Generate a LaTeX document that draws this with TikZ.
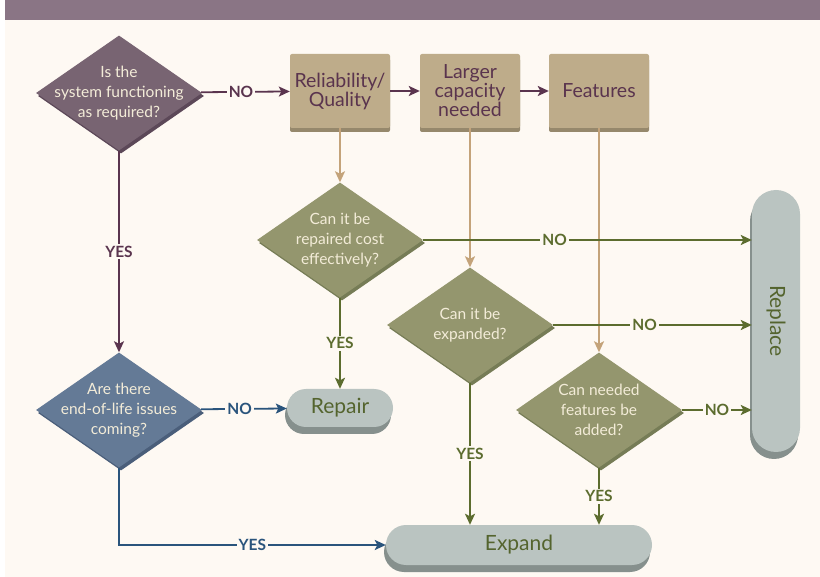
\documentclass[tikz,border=0pt]{standalone}
\usepackage{fontspec}
\setmainfont{Lato}
\usetikzlibrary{positioning,arrows.meta,calc,shapes.geometric,shadows}
\definecolor{PlumBand}{RGB}{138,117,133}
\definecolor{PaperCream}{RGB}{254,249,243}
\definecolor{PlumFill}{RGB}{120,100,114}
\definecolor{PlumShade}{RGB}{92,72,88}
\definecolor{PlumLine}{RGB}{90,52,78}
\definecolor{TanFill}{RGB}{190,172,138}
\definecolor{TanShade}{RGB}{150,136,108}
\definecolor{TanLine}{RGB}{196,163,122}
\definecolor{OliveFill}{RGB}{148,150,110}
\definecolor{OliveShade}{RGB}{118,124,86}
\definecolor{OliveLine}{RGB}{92,108,46}
\definecolor{SlateFill}{RGB}{100,122,150}
\definecolor{SlateShade}{RGB}{74,94,122}
\definecolor{SlateLine}{RGB}{42,84,124}
\definecolor{StoneFill}{RGB}{186,196,193}
\definecolor{StoneShade}{RGB}{134,144,141}
\definecolor{CreamText}{RGB}{243,236,216}
\definecolor{OliveText}{RGB}{84,100,46}

\begin{document}
\begin{tikzpicture}[x=1pt, y=-1pt, every node/.style={align=center}]
\tikzset{
  decide/.style={diamond, inner sep=0pt, minimum width=166pt, minimum height=115pt,
    fill=#1Fill, drop shadow={shadow xshift=2pt, shadow yshift=-3pt, fill=#1Shade, opacity=1}},
  qtext/.style={text=CreamText, font=\fontsize{15.5}{20}\selectfont},
  stage/.style={rectangle, rounded corners=2pt, fill=TanFill, minimum width=100pt, minimum height=74pt,
    text=PlumLine, font=\fontsize{19.5}{19}\selectfont,
    drop shadow={shadow xshift=0pt, shadow yshift=-4pt, fill=TanShade, opacity=1}},
  finish/.style={rectangle, fill=StoneFill, text=OliveText, font=\fontsize{21}{24}\selectfont,
    drop shadow={shadow xshift=-2pt, shadow yshift=-7pt, fill=StoneShade, opacity=1}},
  link/.style={-{Stealth[length=11pt, width=10pt, inset=2.5pt]}, line width=1.8pt, #1},
  lbl/.style={fill=PaperCream, inner sep=2pt, font=\fontsize{15.5}{15}\selectfont\bfseries}
}
  \useasboundingbox (0,0) rectangle (820,577);
  \fill[white] (0,0) rectangle (820,577);
  \fill[PaperCream] (5,20) rectangle (820,577);
  \fill[PlumBand] (5,0) rectangle (820,20);

  \node[decide=Plum, label={[qtext]center:Is the\\system functioning\\as required?}] (q1) at (119,93) {};
  \node[stage] (rel) at (340,91) {Reliability/\\Quality};
  \node[stage] (cap) at (470,91) {Larger\\capacity\\needed};
  \node[stage] (feat) at (599,91) {Features};
  \node[decide=Olive, label={[qtext]center:Can it be\\repaired cost\\effectively?}] (q2) at (340,240) {};
  \node[decide=Olive, label={[qtext]center:Can it be\\expanded?}] (q3) at (470,325) {};
  \node[decide=Olive, label={[qtext]center:Can needed\\features be\\added?}] (q4) at (599,410) {};
  \node[decide=Slate, label={[qtext]center:Are there\\end-of-life issues\\coming?}] (q5) at (119,410) {};
  \node[finish, rounded corners=19pt, minimum width=106pt, minimum height=38pt] (fix) at (340,408) {Repair};
  \node[finish, rounded corners=20pt, minimum width=266pt, minimum height=40pt] (grow) at (519,545) {Expand};
  \node[finish, rounded corners=24pt, minimum width=48pt, minimum height=262pt,
    label={[text=OliveText, font=\fontsize{21}{24}\selectfont, rotate=-90]center:Replace}] (swap) at (776,321) {};

  \draw[link=PlumLine] (q1) -- node[lbl, pos=0.45]{NO} (rel);
  \draw[link=PlumLine] (rel) -- (cap);
  \draw[link=PlumLine] (cap) -- (feat);
  \draw[link=PlumLine] (q1) -- node[lbl]{YES} (q5);
  \draw[link=TanLine] (rel) -- (q2);
  \draw[link=TanLine] (cap) -- (q3);
  \draw[link=TanLine] (feat) -- (q4);
  \draw[link=OliveLine] (q2.east) -- node[lbl, pos=0.4]{NO} (q2.east -| swap.west);
  \draw[link=OliveLine] (q3.east) -- node[lbl, pos=0.46]{NO} (q3.east -| swap.west);
  \draw[link=OliveLine] (q4.east) -- node[lbl]{NO} (q4.east -| swap.west);
  \draw[link=OliveLine] (q2) -- node[lbl]{YES} (fix);
  \draw[link=OliveLine] (q3.south) -- node[lbl]{YES} (q3.south |- grow.north);
  \draw[link=OliveLine] (q4.south) -- node[lbl]{YES} (q4.south |- grow.north);
  \draw[link=SlateLine] (q5) -- node[lbl, pos=0.45]{NO} (fix);
  \draw[link=SlateLine] (q5.south) |- node[lbl, pos=0.75]{YES} (grow.west);
\end{tikzpicture}
\end{document}
